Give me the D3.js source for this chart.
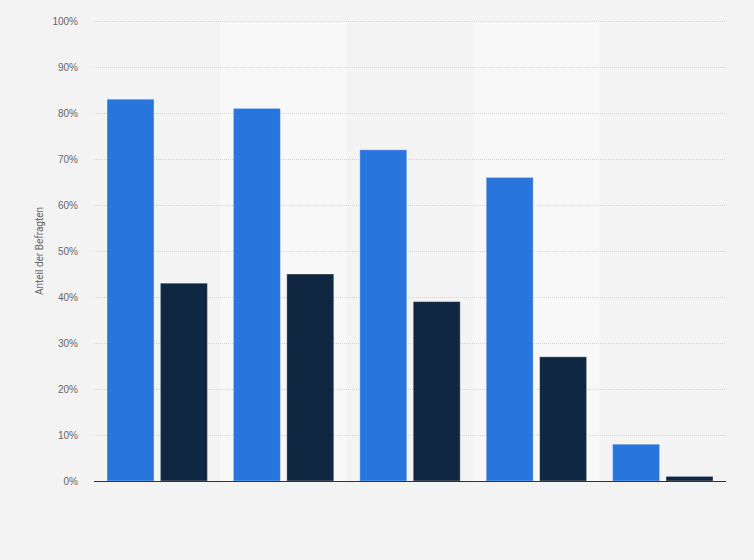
<!DOCTYPE html>
<html>
<head>
<meta charset="utf-8">
<script src="https://cdn.jsdelivr.net/npm/d3@7"></script>
<style>
  body { margin: 0; background: #f3f3f3; }
  svg { display: block; font-family: Roboto, Arial, sans-serif; }
</style>
</head>
<body>
<div id="chart"></div>
<script>
// categories have no visible labels in the picture
var groups = ["g1", "g2", "g3", "g4", "g5"];
var seriesNames = ["a", "b"];
var valuesA = [83, 81, 72, 66, 8];
var valuesB = [43, 45, 39, 27, 1];
var yTicks = [0, 10, 20, 30, 40, 50, 60, 70, 80, 90, 100];
var colors = ["#2876dd", "#0f2740"];

var width = 754, height = 560;
var margin = {top: 21, right: 28, bottom: 79, left: 94};
var innerW = width - margin.left - margin.right,
    innerH = height - margin.top - margin.bottom;

var svg = d3.select("#chart").append("svg")
    .attr("width", width)
    .attr("height", height);

svg.append("rect").attr("width", width).attr("height", height).attr("fill", "#f3f3f3");

var g = svg.append("g")
    .attr("transform", "translate(" + margin.left + "," + margin.top + ")");

var x0 = d3.scaleBand().domain(groups).range([0, innerW]);
var x1 = d3.scaleBand().domain(seriesNames)
    .range([13, x0.bandwidth() - 13])
    .paddingInner(0.12);
var y = d3.scaleLinear().domain([0, 100]).range([innerH, 0]);

// alternating band shading
g.append("g").selectAll("rect")
  .data(groups.filter(function(d, i) { return i % 2 === 1; }))
  .enter().append("rect")
    .attr("x", function(d) { return x0(d); })
    .attr("y", 0)
    .attr("width", x0.bandwidth())
    .attr("height", innerH)
    .attr("fill", "#f8f8f8");

// gridlines
g.append("g").selectAll("line")
  .data(yTicks.filter(function(d) { return d > 0; }))
  .enter().append("line")
    .attr("x1", 0).attr("x2", innerW)
    .attr("y1", function(d) { return y(d) + 0.5; })
    .attr("y2", function(d) { return y(d) + 0.5; })
    .attr("stroke", "#d4d4d4")
    .attr("stroke-dasharray", "1,1");

// y axis labels
var yAxis = d3.axisLeft(y).tickValues(yTicks)
    .tickFormat(function(d) { return d + "%"; })
    .tickSize(0).tickPadding(16);
var ya = g.append("g").call(yAxis);
ya.select(".domain").remove();
ya.selectAll("text").attr("fill", "#666").style("font-size", "10px");

// bars
var rows = groups.map(function(gr, i) { return {group: gr, vals: [valuesA[i], valuesB[i]]}; });
var grp = g.append("g").selectAll("g")
  .data(rows)
  .enter().append("g")
    .attr("transform", function(d) { return "translate(" + x0(d.group) + ",0)"; });

grp.selectAll("rect")
  .data(function(d) { return d.vals.map(function(v, j) { return {s: seriesNames[j], v: v, c: colors[j]}; }); })
  .enter().append("rect")
    .attr("x", function(d) { return x1(d.s); })
    .attr("y", function(d) { return y(d.v); })
    .attr("width", x1.bandwidth())
    .attr("height", function(d) { return innerH - y(d.v); })
    .attr("fill", function(d) { return d.c; })
    .attr("stroke", "rgba(255,255,255,0.35)")
    .attr("stroke-width", 1);

// baseline
g.append("line")
    .attr("x1", 0).attr("x2", innerW)
    .attr("y1", innerH + 0.5).attr("y2", innerH + 0.5)
    .attr("stroke", "#333").attr("stroke-width", 1);

// y axis title
svg.append("text")
    .attr("transform", "translate(43," + (margin.top + innerH / 2) + ") rotate(-90)")
    .attr("text-anchor", "middle")
    .attr("fill", "#666")
    .style("font-size", "10px")
    .text("Anteil der Befragten");
</script>
</body>
</html>
